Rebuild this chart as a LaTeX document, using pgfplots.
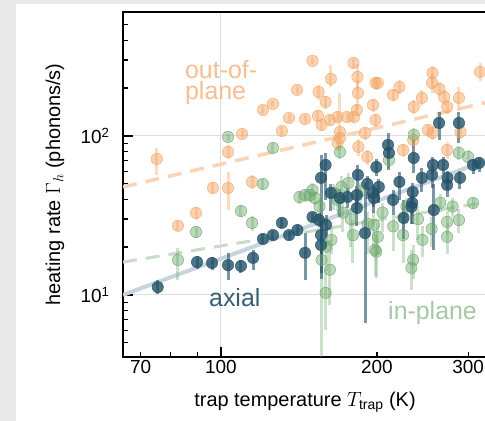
\documentclass[border=0pt]{standalone}
\usepackage{fontspec}
\setmainfont{Liberation Sans}
\usepackage{pgfplots}
\pgfplotsset{compat=1.18}
\usepackage{pgfplotstable}
\definecolor{bg}{RGB}{233,233,233}
\definecolor{cblue}{RGB}{35,82,105}
\definecolor{cgreen}{RGB}{110,170,110}
\definecolor{corange}{RGB}{246,168,105}
\definecolor{lblue}{RGB}{200,212,222}
\definecolor{lgreen}{RGB}{200,220,200}
\definecolor{lorange}{RGB}{250,212,182}
\definecolor{tblue}{RGB}{55,95,115}
\definecolor{tgreen}{RGB}{165,200,165}
\definecolor{torange}{RGB}{246,190,145}

\pgfplotstableread{
x y ep em
75.2 71.7 12 15
82.6 27.2 2 2
89.5 32.8 3 3
96.5 47.1 4 4
103.2 79.3 8 8
103.2 47.1 12 13
109.8 102.9 6 6
114.8 51.4 5 5
120.5 145.7 8 8
126.0 159.0 8 8
131.1 107.5 6 6
135.3 129.7 8 8
140.2 194.7 10 10
145.3 127.8 8 8
150.2 297 15 15
153.9 133.6 10 10
154.3 189.1 20 20
156.4 117.3 10 10
159.2 163.6 15 15
162.3 126.1 10 10
163.0 228.5 50 25
167.9 131.6 10 10
169.7 106.0 80 25
169.7 97.1 10 10
167.9 90.4 10 10
175.1 131.6 10 10
180.2 288 20 20
180.6 131.6 10 10
183.0 145.7 10 10
183.4 235 50 40
183.8 186.4 40 40
184.2 85.3 10 10
189.7 104.4 10 10
191.6 73.8 8 8
196.6 156.7 15 15
198.7 126.1 12 12
198.7 215.4 20 20
200.8 215.4 20 20
214.8 181.1 15 15
221.0 203.3 20 20
224.6 81.6 8 8
235.0 94.4 10 10
235.5 152.2 15 15
244.3 173.4 20 20
251.0 109.1 10 10
255.5 215.4 30 30
256.0 249 25 50
256.0 104.4 10 10
264.1 197.5 20 20
269.5 175.9 20 20
273.2 152.2 15 15
273.2 81.6 10 10
288.0 173.4 30 30
289.9 106.0 10 10
316.2 252.7 35 30
}\orangedata

\pgfplotstableread{
x y ep em
82.6 16.6 3.2 4.2
89.5 24.9 2 2
103.2 98.6 5 5
109.3 33.7 3 3
114.8 28.4 3 3
120.5 49.9 4 4
126.0 84.0 6 6
141.7 41.3 4 4
145.3 42.5 4 4
148.6 42.5 4 4
151.8 40.7 4 4
150.2 45.7 5 5
155.0 36.0 5 10
156.4 16.6 8 12.6
159.2 10.3 4 4.3
159.5 20.1 6 6
162.3 14.4 7.8 5.8
163.4 22.2 4 4
165.0 44.0 6 10
167.9 39.6 6 6
169.7 79.3 8 8
170.8 47.8 8 8
172.0 33.0 6 8
176.2 50.6 8 8
178.0 30.0 5 10
179.8 23.8 6 8
186.0 45.0 6 8
192.0 28.0 5 10
197.4 27.6 6 8
198.3 19.2 6 6
199.5 18.7 5 6
200.8 23.2 5 5
205.0 33.0 5 8
211.0 70.6 8 8
215.0 27.0 5 8
224.6 23.8 6 8
228.0 36.0 5 8
233.1 14.8 4.4 4.1
235.0 16.6 4 4
235.5 101.5 10 10
240.0 30.0 6 8
244.8 22.2 5 5
255.0 26.0 5 6
265.0 38.0 5 5
273.2 28.8 5 5
273.2 23.2 5 5
280.0 36.0 5 5
288.0 29.6 5 5
288.0 78.2 8 8
299.9 73.8 8 8
306.6 37.9 3 3
}\greendata

\pgfplotstableread{
x y ep em
75.5 11.2 1.3 1.1
89.9 16.1 1.5 1.5
96.1 15.9 1.5 1.5
103.2 15.4 3 3
109.3 15.2 1.5 1.5
115.3 17.1 2.1 2.7
120.5 22.5 1.5 1.5
126.0 23.8 1.5 1.5
131.1 28.4 2 2
135.3 23.8 1.5 1.5
140.5 25.6 2 2
145.3 18.4 6.1 6.0
150.2 30.9 2 2
154.6 29.6 3 3
156.0 23.8 4 6
156.0 20.6 5 8
156.0 54.5 21.4 40.8
159.2 65.7 12.5 26
159.5 27.6 4 4
163.0 43.8 6 10
169.7 40.7 6 10
175.5 41.3 6 6
183.0 42.5 6 10
183.0 35.2 5 8
183.8 56.9 9 20
189.7 24.5 26 17.8
191.6 49.9 6 10
196.6 43.8 5 8
197.4 40.7 5 8
199.5 63.8 8 8
201.7 47.8 6 10
210.1 87.8 17 27
211.0 78.2 6 6
214.8 39.6 6 8
221.0 51.4 8 12
225.1 30.5 9 8
233.1 35.8 6 8
234.0 37.9 8 10
234.5 44.4 6 8
235.5 72.7 22 14
244.3 54.5 8 10
255.5 56.9 8 10
256.5 65.7 8 8
257.5 34.2 16 15
263.6 120.7 20 26
268.4 65.7 8 8
273.2 49.2 6 8
273.7 54.5 6 8
288.0 120.7 20 30
289.3 54.5 6 8
306.6 65.7 6 8
314.9 67.6 6 8
}\bluedata

\begin{document}
\begin{tikzpicture}
\useasboundingbox (0,0) rectangle (485bp,421bp);
\fill[bg] (0,0) rectangle (485bp,421bp);
\fill[white] (16bp,0) rectangle (485bp,417bp);
\begin{scope}
\clip (0,0) rectangle (485bp,421bp);
\begin{axis}[
 at={(123bp,64bp)}, anchor=south west,
 scale only axis, width=373.3bp, height=345bp,
 xmode=log, ymode=log,
 xmin=64.7, xmax=340, ymin=4.07, ymax=602,
 axis line style={line width=1.8bp},
 xtick={100}, xticklabels={100},
 extra x ticks={70,200,300}, extra x tick labels={70,200,300},
 extra x tick style={grid=none, major tick length=5bp},
 minor xtick={80,90},
 ytick={10,100}, yticklabels={10\textsuperscript{1},10\textsuperscript{2}},
 minor ytick={5,6,7,8,9,20,30,40,50,60,70,80,90,200,300,400,500},
 tick align=inside, tick pos=left,
 major tick length=10bp, minor tick length=5bp,
 tick style={black, line width=1.3bp},
 grid=major, major grid style={line width=1bp, color=black!13},
 tick label style={font=\fontsize{19}{22}\selectfont},
 yticklabel style={xshift=-10bp},
 xlabel={trap temperature $T_{\mathrm{trap}}$ (K)},
 ylabel={heating rate $\Gamma_h$ (phonons/s)},
 label style={font=\fontsize{20}{24}\selectfont},
 xlabel style={at={(axis description cs:0.4875,-0.13)}, anchor=center},
 ylabel style={at={(axis description cs:-0.182,0.5)}, anchor=center},
]
\addplot[lgreen, line width=3bp, dash pattern=on 14bp off 9bp] coordinates {(64.7,16.1) (340,39.2)};
\addplot[lorange, line width=3.5bp, dash pattern=on 14bp off 9bp] coordinates {(64.7,47.8) (340,168)};
\addplot[lblue, line width=4bp] coordinates {(64.7,10) (340,74)};

\addplot[only marks, mark=*, mark size=5.7bp, color=corange,
  mark options={fill=corange, draw=none, fill opacity=0.5},
  error bars/.cd, y dir=both, y explicit, error mark=none,
  error bar style={line width=3bp, opacity=0.4, color=corange}]
  table[x=x, y=y, y error plus=ep, y error minus=em]{\orangedata};
\addplot[only marks, mark=*, mark size=5.7bp, color=cgreen,
  mark options={fill=cgreen, draw=none, fill opacity=0.45},
  error bars/.cd, y dir=both, y explicit, error mark=none,
  error bar style={line width=3bp, opacity=0.35, color=cgreen}]
  table[x=x, y=y, y error plus=ep, y error minus=em]{\greendata};
\addplot[only marks, mark=*, mark size=5.7bp, color=cblue,
  mark options={fill=cblue, draw=none, fill opacity=0.8},
  error bars/.cd, y dir=both, y explicit, error mark=none,
  error bar style={line width=3bp, opacity=0.6, color=cblue}]
  table[x=x, y=y, y error plus=ep, y error minus=em]{\bluedata};

\node[anchor=base west, inner sep=0, align=left, text=torange, font=\fontsize{25}{22}\selectfont] at (axis cs:85.2,168.4) {out-of-\\plane};
\node[anchor=base west, inner sep=0, text=tblue, font=\fontsize{25}{30}\selectfont] at (axis cs:94.8,8.4) {axial};
\node[anchor=base west, inner sep=0, text=tgreen, font=\fontsize{25}{30}\selectfont] at (axis cs:210.1,6.96) {in-plane};
\end{axis}
\end{scope}
\end{tikzpicture}
\end{document}
